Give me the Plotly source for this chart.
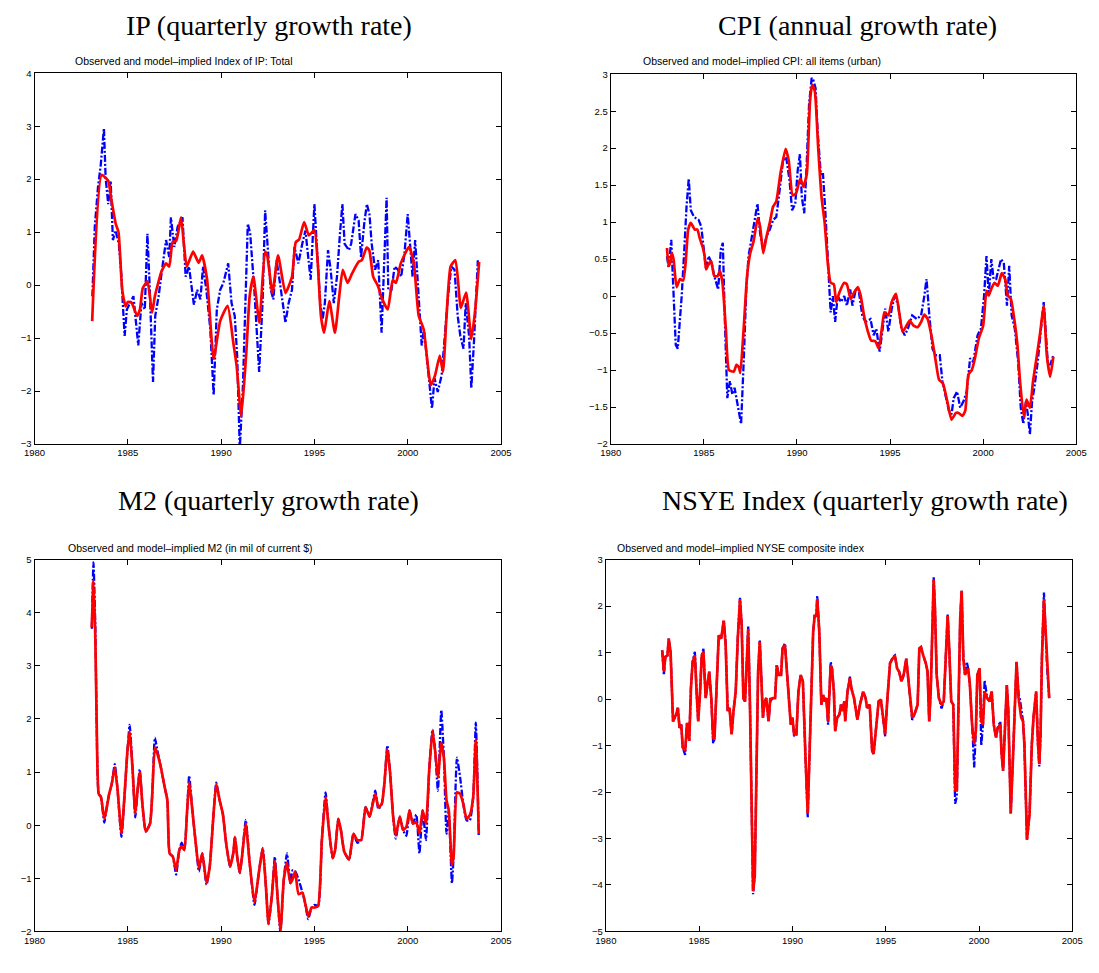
import plotly.graph_objects as go

# ------------------------------------------------------------------
# Observed series (blue) and model-implied series (red), by date
# ------------------------------------------------------------------

# IP, quarterly growth rate
ip_obs_dates = [
    1983.10, 1983.23, 1983.40, 1983.55, 1983.72, 1983.81, 1983.95, 1984.08, 1984.20, 1984.34,
    1984.52, 1984.66, 1984.73, 1984.83, 1984.95, 1985.13, 1985.30, 1985.56, 1985.73, 1985.91,
    1986.05, 1986.17, 1986.35, 1986.47, 1986.65, 1986.88, 1987.05, 1987.22, 1987.31, 1987.49,
    1987.67, 1987.93, 1988.10, 1988.28, 1988.54, 1988.72, 1988.89, 1989.03, 1989.21, 1989.42,
    1989.60, 1989.77, 1989.95, 1990.12, 1990.38, 1990.56, 1990.73, 1990.86, 1991.00, 1991.17,
    1991.43, 1991.56, 1991.78, 1992.04, 1992.22, 1992.36, 1992.48, 1992.66, 1992.80, 1992.97,
    1993.15, 1993.45, 1993.62, 1993.80, 1993.93, 1994.14, 1994.35, 1994.52, 1994.63, 1994.80,
    1995.00, 1995.13, 1995.31, 1995.44, 1995.56, 1995.73, 1995.87, 1996.04, 1996.21, 1996.37,
    1996.50, 1996.62, 1996.85, 1996.97, 1997.20, 1997.37, 1997.50, 1997.67, 1997.81, 1997.95,
    1998.07, 1998.25, 1998.42, 1998.60, 1998.72, 1998.87, 1998.96, 1999.13, 1999.30, 1999.48,
    1999.65, 1999.83, 2000.00, 2000.17, 2000.26, 2000.40, 2000.53, 2000.61, 2000.75, 2000.87,
    2001.04, 2001.16, 2001.30, 2001.44, 2001.61, 2001.82, 2001.99, 2002.16, 2002.34, 2002.51,
    2002.68, 2002.82, 2002.99, 2003.11, 2003.29, 2003.41, 2003.55, 2003.76,
]
ip_obs = [
    -0.21, 1.10, 1.84, 2.27, 2.96, 2.03, 1.53, 1.97, 0.85, 1.03,
    0.78, 0.16, -0.34, -0.96, -0.46, -0.34, -0.21, -1.14, -0.34, -0.46,
    0.97, -0.02, -1.83, -0.58, -0.21, 0.41, 0.85, 0.53, 1.28, 0.72,
    1.10, 1.28, 0.16, 0.35, -0.37, -0.09, -0.27, 0.35, -0.09, -0.83,
    -2.08, -0.46, -0.09, 0.04, 0.41, -0.34, -0.58, -1.33, -3.10, -1.89,
    1.16, 0.97, -0.09, -1.64, -0.34, 1.41, 0.78, -0.09, -0.27, 0.47,
    0.05, -0.71, -0.34, -0.09, 0.72, 0.41, 0.78, 1.03, 0.66, 0.10,
    1.53, 0.78, -0.34, -0.65, -0.34, 0.66, 0.29, -0.34, 0.16, 0.97,
    1.53, 0.78, 0.66, 0.78, 1.34, 1.22, 0.53, 1.16, 1.53, 1.34,
    0.78, 0.29, 0.47, -0.90, 0.16, 1.65, -0.09, -0.09, 0.35, 0.29,
    0.16, 0.60, 1.34, 0.47, 0.16, 0.85, 0.10, -0.34, -1.14, -0.83,
    -1.45, -1.95, -2.33, -1.76, -2.02, -1.70, -0.96, -0.21, 0.35, 0.29,
    -0.58, -0.96, -1.20, -0.34, -0.96, -1.95, -1.08, 0.47,
]
ip_fit_dates = [
    1983.09, 1983.60, 1983.95, 1984.13, 1984.35, 1984.50, 1984.70, 1984.88, 1985.00, 1985.20,
    1985.50, 1985.65, 1985.80, 1986.05, 1986.30, 1986.45, 1986.80, 1987.05, 1987.22, 1987.40,
    1987.60, 1987.85, 1988.02, 1988.16, 1988.50, 1988.80, 1988.98, 1989.25, 1989.60, 1989.95,
    1990.35, 1990.65, 1990.83, 1991.08, 1991.35, 1991.53, 1991.73, 1992.05, 1992.35, 1992.47,
    1992.75, 1993.05, 1993.45, 1993.80, 1994.00, 1994.18, 1994.45, 1994.70, 1995.00, 1995.17,
    1995.35, 1995.52, 1995.80, 1996.10, 1996.33, 1996.52, 1996.78, 1997.02, 1997.37, 1997.54,
    1997.80, 1997.94, 1998.15, 1998.41, 1998.64, 1998.93, 1999.20, 1999.37, 1999.63, 2000.07,
    2000.33, 2000.59, 2000.85, 2001.24, 2001.47, 2001.72, 2001.89, 2002.07, 2002.30, 2002.56,
    2002.85, 2003.13, 2003.41, 2003.62, 2003.83,
]
ip_fit = [
    -0.68, 2.08, 1.97, 1.59, 1.16, 1.00, -0.09, -0.40, -0.32, -0.33,
    -0.58, -0.46, -0.06, 0.07, -0.52, -0.21, 0.25, 0.41, 0.35, 0.81,
    0.84, 1.28, 0.72, 0.35, 0.63, 0.42, 0.56, 0.10, -1.39, -0.68,
    -0.39, -1.08, -1.52, -2.48, -1.27, -0.21, 0.16, -0.71, 0.63, 0.56,
    -0.15, 0.56, -0.15, 0.16, 0.81, 0.86, 1.19, 0.94, 1.04, 0.47,
    -0.58, -0.90, -0.30, -0.90, -0.21, 0.29, 0.04, 0.22, 0.44, 0.47,
    0.71, 0.66, 0.16, -0.02, -0.27, -0.46, 0.10, 0.04, 0.41, 0.72,
    0.41, -0.58, -0.83, -1.89, -1.70, -1.33, -1.64, -0.65, 0.35, 0.47,
    -0.43, -0.14, -1.02, -0.46, 0.44,
]

# CPI, annual growth rate
cpi_obs_dates = [
    1983.02, 1983.11, 1983.25, 1983.37, 1983.49, 1983.60, 1983.72, 1983.81, 1983.95, 1984.07,
    1984.19, 1984.30, 1984.47, 1984.72, 1984.86, 1985.00, 1985.12, 1985.25, 1985.42, 1985.56,
    1985.70, 1985.77, 1985.91, 1986.02, 1986.12, 1986.26, 1986.40, 1986.53, 1986.65, 1986.75,
    1986.88, 1987.00, 1987.14, 1987.28, 1987.40, 1987.58, 1987.70, 1987.88, 1988.02, 1988.19,
    1988.37, 1988.54, 1988.72, 1988.89, 1989.07, 1989.25, 1989.42, 1989.60, 1989.74, 1989.91,
    1990.04, 1990.16, 1990.26, 1990.39, 1990.51, 1990.65, 1990.79, 1990.88, 1991.00, 1991.11,
    1991.28, 1991.40, 1991.53, 1991.67, 1991.81, 1991.93, 1992.05, 1992.19, 1992.37, 1992.54,
    1992.68, 1992.86, 1992.98, 1993.16, 1993.33, 1993.51, 1993.68, 1993.95, 1994.12, 1994.26,
    1994.44, 1994.56, 1994.74, 1994.91, 1995.09, 1995.26, 1995.44, 1995.61, 1995.79, 1995.96,
    1996.19, 1996.44, 1996.67, 1996.84, 1996.96, 1997.11, 1997.28, 1997.46, 1997.67, 1997.81,
    1997.98, 1998.16, 1998.30, 1998.42, 1998.60, 1998.77, 1998.95, 1999.12, 1999.30, 1999.47,
    1999.70, 1999.88, 2000.05, 2000.18, 2000.30, 2000.44, 2000.56, 2000.70, 2000.96, 2001.11,
    2001.28, 2001.40, 2001.53, 2001.70, 2001.88, 2002.02, 2002.16, 2002.30, 2002.40, 2002.51,
    2002.63, 2002.75, 2002.93, 2003.11, 2003.25, 2003.35, 2003.47, 2003.60, 2003.77,
]
cpi_obs = [
    0.54, 0.38, 0.76, 0.09, -0.66, -0.71, -0.35, 0.00, 0.63, 1.21,
    1.59, 1.16, 1.07, 1.03, 0.94, 0.63, 0.36, 0.54, 0.45, 0.27,
    0.14, 0.09, 0.63, 0.72, -0.26, -1.38, -1.15, -1.33, -1.24, -1.38,
    -1.55, -1.73, -0.89, 0.09, 0.54, 0.81, 1.03, 1.25, 0.85, 0.63,
    0.81, 0.90, 1.03, 1.07, 1.43, 1.83, 1.88, 1.57, 1.16, 1.25,
    1.70, 1.92, 1.34, 1.12, 1.70, 2.59, 2.95, 2.92, 2.81, 2.23,
    1.65, 1.65, 1.12, 0.45, -0.22, 0.00, -0.35, 0.00, -0.08, 0.00,
    -0.13, 0.09, -0.13, 0.09, 0.05, -0.26, -0.35, -0.31, -0.53, -0.44,
    -0.75, -0.53, -0.17, -0.48, -0.17, 0.00, -0.13, -0.44, -0.53, -0.44,
    -0.26, -0.31, -0.26, 0.00, 0.23, -0.26, -0.71, -0.80, -0.80, -1.15,
    -1.33, -1.55, -1.60, -1.38, -1.29, -1.51, -1.42, -1.29, -0.84, -0.89,
    -0.53, -0.44, 0.00, 0.54, 0.00, 0.50, 0.23, 0.23, 0.50, 0.45,
    -0.13, 0.41, -0.26, -0.44, -0.89, -1.51, -1.73, -1.42, -1.60, -1.87,
    -1.42, -1.24, -0.89, -0.40, -0.08, -0.44, -0.89, -0.93, -0.80,
]
cpi_fit_dates = [
    1983.02, 1983.11, 1983.19, 1983.28, 1983.37, 1983.54, 1983.72, 1983.89, 1984.02, 1984.16,
    1984.30, 1984.51, 1984.65, 1984.77, 1984.95, 1985.04, 1985.12, 1985.21, 1985.39, 1985.56,
    1985.74, 1985.86, 1986.00, 1986.18, 1986.35, 1986.61, 1986.75, 1986.88, 1986.96, 1987.14,
    1987.32, 1987.49, 1987.67, 1987.89, 1988.02, 1988.19, 1988.37, 1988.54, 1988.72, 1988.89,
    1989.11, 1989.39, 1989.56, 1989.77, 1989.95, 1990.18, 1990.35, 1990.53, 1990.70, 1990.82,
    1990.96, 1991.14, 1991.32, 1991.49, 1991.67, 1991.81, 1991.98, 1992.11, 1992.28, 1992.54,
    1992.68, 1992.89, 1993.07, 1993.28, 1993.42, 1993.60, 1993.81, 1993.98, 1994.21, 1994.39,
    1994.56, 1994.70, 1994.91, 1995.09, 1995.32, 1995.49, 1995.67, 1995.84, 1996.05, 1996.26,
    1996.49, 1996.67, 1996.84, 1997.02, 1997.25, 1997.46, 1997.63, 1997.84, 1998.07, 1998.30,
    1998.54, 1998.68, 1998.89, 1999.04, 1999.21, 1999.39, 1999.56, 1999.77, 2000.00, 2000.18,
    2000.30, 2000.44, 2000.61, 2000.79, 2001.00, 2001.18, 2001.32, 2001.49, 2001.67, 2001.84,
    2001.98, 2002.19, 2002.33, 2002.51, 2002.68, 2002.89, 2003.07, 2003.25, 2003.42, 2003.60,
    2003.77,
]
cpi_fit = [
    0.65, 0.41, 0.45, 0.58, 0.50, 0.12, 0.23, 0.21, 0.45, 0.90,
    0.99, 0.90, 0.90, 0.79, 0.65, 0.54, 0.36, 0.41, 0.47, 0.27,
    0.27, 0.34, 0.18, -0.44, -1.00, -1.02, -0.93, -0.96, -1.04, -0.44,
    0.27, 0.58, 0.74, 1.05, 0.94, 0.58, 0.81, 0.99, 1.21, 1.28,
    1.65, 1.99, 1.83, 1.36, 1.39, 1.59, 1.48, 1.65, 2.63, 2.86,
    2.77, 2.01, 1.34, 0.99, 0.41, 0.18, 0.16, -0.08, 0.05, 0.18,
    0.16, -0.04, 0.05, 0.12, 0.01, -0.26, -0.48, -0.60, -0.61, -0.71,
    -0.44, -0.22, -0.26, -0.08, 0.03, -0.22, -0.48, -0.42, -0.33, -0.40,
    -0.42, -0.35, -0.25, -0.31, -0.57, -0.89, -1.13, -1.18, -1.42, -1.67,
    -1.58, -1.58, -1.62, -1.55, -1.06, -1.00, -0.84, -0.57, -0.40, 0.07,
    0.01, 0.10, 0.18, 0.14, 0.31, 0.23, 0.01, -0.04, -0.31, -0.66,
    -1.15, -1.64, -1.40, -1.51, -1.15, -0.80, -0.48, -0.13, -0.80, -1.09,
    -0.82,
]

# M2, quarterly growth rate
m2_dates = [
    1983.07, 1983.16, 1983.26, 1983.33, 1983.44, 1983.56, 1983.74, 1983.86, 1984.00, 1984.14,
    1984.30, 1984.44, 1984.66, 1984.84, 1984.98, 1985.10, 1985.26, 1985.40, 1985.52, 1985.64,
    1985.78, 1985.96, 1986.19, 1986.31, 1986.45, 1986.59, 1986.77, 1986.98, 1987.12, 1987.24,
    1987.41, 1987.59, 1987.76, 1987.89, 1988.03, 1988.17, 1988.29, 1988.46, 1988.64, 1988.81,
    1988.99, 1989.22, 1989.39, 1989.57, 1989.74, 1989.92, 1990.09, 1990.27, 1990.48, 1990.65,
    1990.74, 1990.86, 1991.00, 1991.14, 1991.32, 1991.53, 1991.79, 1992.02, 1992.23, 1992.40,
    1992.54, 1992.72, 1992.88, 1993.02, 1993.18, 1993.36, 1993.53, 1993.71, 1993.83, 1993.97,
    1994.15, 1994.36, 1994.50, 1994.67, 1994.85, 1995.02, 1995.20, 1995.40, 1995.60, 1995.76,
    1995.98, 1996.11, 1996.28, 1996.42, 1996.60, 1996.86, 1997.09, 1997.30, 1997.51, 1997.74,
    1997.96, 1998.26, 1998.43, 1998.61, 1998.75, 1998.91, 1999.05, 1999.22, 1999.36, 1999.58,
    1999.75, 1999.93, 2000.10, 2000.28, 2000.46, 2000.63, 2000.80, 2000.98, 2001.15, 2001.33,
    2001.47, 2001.62, 2001.80, 2001.94, 2002.08, 2002.20, 2002.37, 2002.46, 2002.64, 2002.81,
    2002.98, 2003.16, 2003.33, 2003.51, 2003.65, 2003.81,
]
m2_obs = [
    3.70, 4.95, 3.70, 1.96, 0.59, 0.53, 0.05, 0.31, 0.59, 0.78,
    1.15, 0.71, -0.22, 0.65, 1.40, 1.89, 1.02, 0.15, 0.65, 1.05,
    0.40, -0.12, 0.03, 0.59, 1.65, 1.40, 1.09, 0.71, 0.47, -0.53,
    -0.59, -0.93, -0.47, -0.33, -0.47, 0.22, 0.93, 0.28, -0.34, -0.87,
    -0.53, -1.12, -0.78, 0.09, 0.80, 0.47, 0.22, -0.34, -0.78, -0.53,
    -0.22, -0.59, -0.90, -0.53, 0.10, -0.71, -1.50, -0.90, -0.43, -1.15,
    -1.86, -1.33, -0.60, -1.33, -2.02, -1.02, -0.53, -1.09, -0.85, -0.87,
    -1.02, -1.27, -1.46, -1.77, -1.55, -1.50, -1.52, -0.28, 0.62, -0.02,
    -0.62, -0.47, 0.12, -0.09, -0.50, -0.65, -0.16, -0.33, -0.28, 0.34,
    0.16, 0.65, 0.30, 0.40, 0.78, 1.50, 1.02, 0.16, -0.25, 0.16,
    -0.09, -0.20, 0.28, 0.03, 0.20, -0.53, 0.28, -0.28, 1.02, 1.80,
    1.40, 0.65, 2.17, 1.27, -0.16, 0.28, -1.09, -0.59, 1.27, 0.90,
    0.40, 0.09, 0.09, 0.53, 1.93, -0.22,
]
m2_fit = [
    3.73, 4.60, 3.51, 1.96, 0.59, 0.53, 0.12, 0.31, 0.59, 0.78,
    1.09, 0.71, -0.16, 0.65, 1.40, 1.77, 1.02, 0.22, 0.65, 1.00,
    0.40, -0.12, 0.03, 0.59, 1.46, 1.34, 1.09, 0.71, 0.47, -0.53,
    -0.59, -0.84, -0.47, -0.40, -0.47, 0.22, 0.81, 0.28, -0.34, -0.81,
    -0.53, -1.09, -0.78, 0.09, 0.78, 0.47, 0.22, -0.34, -0.78, -0.53,
    -0.22, -0.59, -0.90, -0.53, 0.03, -0.71, -1.46, -0.90, -0.43, -1.15,
    -1.86, -1.33, -0.68, -1.33, -1.99, -1.02, -0.71, -1.09, -1.02, -0.87,
    -1.30, -1.27, -1.46, -1.71, -1.55, -1.55, -1.52, -0.28, 0.53, -0.02,
    -0.62, -0.47, 0.12, -0.09, -0.50, -0.65, -0.16, -0.28, -0.28, 0.34,
    0.16, 0.59, 0.34, 0.40, 0.78, 1.43, 1.02, 0.16, -0.19, 0.16,
    -0.09, -0.03, 0.28, 0.03, 0.06, -0.16, 0.28, 0.03, 1.02, 1.77,
    1.40, 0.90, 1.55, 1.27, 0.47, 0.28, -0.75, -0.59, 0.62, 0.59,
    0.40, 0.12, 0.19, 0.53, 1.61, -0.16,
]

# NYSE composite index, quarterly growth rate
nyse_dates = [
    1983.02, 1983.11, 1983.19, 1983.30, 1983.37, 1983.47, 1983.60, 1983.68, 1983.77, 1983.86,
    1983.95, 1984.04, 1984.12, 1984.25, 1984.35, 1984.47, 1984.56, 1984.65, 1984.77, 1984.88,
    1984.95, 1985.05, 1985.14, 1985.23, 1985.35, 1985.44, 1985.54, 1985.65, 1985.75, 1985.82,
    1985.96, 1986.05, 1986.18, 1986.32, 1986.42, 1986.53, 1986.63, 1986.74, 1986.84, 1986.96,
    1987.07, 1987.19, 1987.28, 1987.37, 1987.46, 1987.54, 1987.63, 1987.72, 1987.81, 1987.89,
    1987.98, 1988.07, 1988.16, 1988.25, 1988.33, 1988.42, 1988.51, 1988.60, 1988.72, 1988.81,
    1988.95, 1989.07, 1989.16, 1989.26, 1989.39, 1989.47, 1989.60, 1989.68, 1989.82, 1989.91,
    1990.00, 1990.09, 1990.21, 1990.32, 1990.44, 1990.56, 1990.70, 1990.82, 1990.91, 1991.02,
    1991.11, 1991.19, 1991.28, 1991.33, 1991.44, 1991.55, 1991.64, 1991.73, 1991.82, 1991.91,
    1992.05, 1992.12, 1992.22, 1992.29, 1992.40, 1992.52, 1992.60, 1992.69, 1992.78, 1992.83,
    1992.95, 1993.08, 1993.16, 1993.30, 1993.48, 1993.62, 1993.79, 1993.92, 1994.00, 1994.14,
    1994.27, 1994.35, 1994.44, 1994.62, 1994.74, 1994.88, 1994.97, 1995.09, 1995.23, 1995.37,
    1995.49, 1995.61, 1995.72, 1995.84, 1995.96, 1996.10, 1996.19, 1996.31, 1996.42, 1996.54,
    1996.71, 1996.80, 1996.89, 1997.01, 1997.15, 1997.24, 1997.33, 1997.41, 1997.50, 1997.57,
    1997.64, 1997.73, 1997.85, 1997.99, 1998.11, 1998.20, 1998.32, 1998.41, 1998.51, 1998.62,
    1998.72, 1998.81, 1998.90, 1998.99, 1999.07, 1999.16, 1999.25, 1999.34, 1999.42, 1999.51,
    1999.63, 1999.74, 1999.83, 1999.91, 2000.03, 2000.12, 2000.21, 2000.30, 2000.44, 2000.56,
    2000.68, 2000.79, 2000.91, 2001.00, 2001.14, 2001.21, 2001.29, 2001.40, 2001.49, 2001.57,
    2001.70, 2001.82, 2001.91, 2002.01, 2002.12, 2002.19, 2002.26, 2002.36, 2002.43, 2002.50,
    2002.57, 2002.71, 2002.83, 2002.92, 2003.06, 2003.16, 2003.23, 2003.30, 2003.37, 2003.48,
    2003.55, 2003.65, 2003.76,
]
nyse_obs = [
    1.05, 0.52, 0.91, 0.94, 1.30, 1.01, -0.48, -0.40, -0.33, -0.19,
    -0.62, -0.55, -1.04, -1.20, -0.51, -0.90, 0.23, 0.80, 1.02, 0.02,
    -0.48, 0.16, 0.94, 1.08, 0.02, 0.30, 0.59, 0.02, -0.95, -0.87,
    0.30, 1.37, 1.30, 1.69, 1.22, -0.26, -0.19, -0.76, -0.26, 0.16,
    1.30, 2.18, 1.58, 0.02, -0.05, 0.73, 1.56, -0.05, -2.67, -4.20,
    -3.81, -1.61, 0.59, 1.26, 0.30, -0.40, -0.05, 0.02, -0.48, -0.05,
    0.02, 0.02, 0.73, 0.52, 0.52, 1.09, 1.20, 0.73, 0.02, -0.55,
    -0.40, -0.80, -0.76, 0.16, 0.52, 0.38, -1.26, -2.55, -1.26, 0.16,
    1.44, 1.79, 1.79, 2.22, 1.44, -0.12, 0.09, -0.05, 0.02, -0.55,
    0.80, 0.66, 0.16, -0.69, -0.40, -0.33, -0.12, -0.26, -0.05, -0.48,
    0.16, 0.48, 0.23, 0.02, -0.44, -0.12, 0.16, 0.02, -0.19, -0.12,
    -1.11, -1.18, -0.83, -0.05, -0.01, -0.55, -0.80, 0.02, 0.77, 0.90,
    0.94, 0.66, 0.59, 0.38, 0.52, 0.87, 0.52, -0.05, -0.45, -0.33,
    -0.12, 1.09, 1.12, 0.94, 0.77, 0.59, -0.48, 0.16, 1.58, 2.62,
    1.94, 0.52, 0.02, -0.20, -0.05, 0.87, 1.82, 1.01, -0.05, -0.12,
    -2.25, -2.10, -0.19, 1.72, 2.33, 0.87, 0.52, 0.80, 0.66, 0.30,
    -0.55, -1.47, -0.69, 0.52, 0.66, -1.00, -0.55, 0.40, 0.02, -0.05,
    0.16, -0.55, -0.83, -0.62, -0.48, -1.18, -1.54, -0.55, 0.30, -0.26,
    -2.46, -1.26, -0.19, 0.80, 0.10, 0.00, -0.20, -0.48, -0.97, -1.96,
    -3.03, -2.46, -0.97, -0.40, 0.16, -0.97, -1.45, -0.75, 0.87, 2.29,
    1.58, 0.66, 0.02,
]
nyse_fit = [
    1.05, 0.59, 0.91, 0.94, 1.30, 1.01, -0.48, -0.40, -0.33, -0.19,
    -0.62, -0.55, -1.04, -1.11, -0.51, -0.90, 0.23, 0.80, 0.94, 0.02,
    -0.48, 0.16, 0.94, 1.01, 0.02, 0.30, 0.59, 0.02, -0.83, -0.87,
    0.30, 1.37, 1.30, 1.69, 1.16, -0.26, -0.19, -0.76, -0.26, 0.16,
    1.30, 2.15, 1.58, 0.02, -0.05, 0.73, 1.51, -0.05, -2.67, -4.13,
    -3.81, -1.61, 0.59, 1.23, 0.30, -0.40, -0.05, 0.02, -0.48, 0.00,
    0.02, 0.02, 0.73, 0.52, 0.52, 1.09, 1.16, 0.73, 0.02, -0.55,
    -0.40, -0.76, -0.76, 0.16, 0.52, 0.38, -1.26, -2.46, -1.26, 0.16,
    1.44, 1.79, 1.79, 2.15, 1.44, -0.12, 0.09, -0.05, 0.02, -0.48,
    0.73, 0.66, 0.16, -0.69, -0.40, -0.33, -0.12, -0.26, -0.05, -0.48,
    0.16, 0.45, 0.23, 0.02, -0.44, -0.12, 0.16, 0.02, -0.19, -0.12,
    -1.11, -1.18, -0.83, -0.05, -0.01, -0.55, -0.76, 0.02, 0.77, 0.87,
    0.94, 0.66, 0.59, 0.38, 0.52, 0.87, 0.52, -0.05, -0.40, -0.33,
    -0.12, 1.09, 1.12, 0.94, 0.77, 0.59, -0.48, 0.16, 1.58, 2.57,
    1.94, 0.52, 0.02, -0.12, -0.05, 0.87, 1.79, 1.01, -0.05, -0.12,
    -1.96, -1.96, -0.19, 1.72, 2.33, 0.87, 0.52, 0.59, 0.66, 0.30,
    -0.55, -0.97, -0.69, 0.52, 0.66, -0.48, -0.55, 0.16, 0.02, -0.05,
    0.16, -0.55, -0.83, -0.62, -0.55, -1.18, -1.54, -0.55, 0.30, -0.26,
    -2.46, -1.26, -0.19, 0.80, 0.02, -0.26, -0.40, -0.48, -0.97, -1.96,
    -3.03, -2.46, -0.97, -0.40, 0.16, -0.97, -1.40, -0.69, 0.87, 2.15,
    1.58, 0.66, 0.02,
]

# ------------------------------------------------------------------
# Figure layout
# ------------------------------------------------------------------
W, H = 1099, 973
SANS = "Liberation Sans, Arial, Helvetica, sans-serif"
SERIF = "Liberation Serif, Times New Roman, serif"
BLUE = "#0000ff"
RED = "#ff0000"


def px_domain(x0, y0, x1, y1):
    """Pixel box (left, top, right, bottom) -> paper domains."""
    return [x0 / W, x1 / W], [1 - y1 / H, 1 - y0 / H]


panels = [
    dict(title="IP (quarterly growth rate)",
         note="Observed and model\u2013implied Index of IP: Total",
         box=(24, 68, 500, 443), yrange=(-3, 4), dtick=1,
         obs=(ip_obs_dates, ip_obs), fit=(ip_fit_dates, ip_fit),
         smooth_fit=True, smooth_obs=False,
         title_at=(263, 20), note_at=(63, 56)),
    dict(title="CPI (annual growth rate)",
         note="Observed and model\u2013implied CPI: all items (urban)",
         box=(612, 69, 1087, 443), yrange=(-2, 3), dtick=0.5,
         obs=(cpi_obs_dates, cpi_obs), fit=(cpi_fit_dates, cpi_fit),
         smooth_fit=True, smooth_obs=False,
         title_at=(864, 20), note_at=(643, 56)),
    dict(title="M2 (quarterly growth rate)",
         note="Observed and model\u2013implied M2 (in mil of current $)",
         box=(24, 560, 500, 936), yrange=(-2, 5), dtick=1,
         obs=(m2_dates, m2_obs), fit=(m2_dates, m2_fit),
         smooth_fit=True, smooth_obs=True,
         title_at=(263, 500), note_at=(56, 548)),
    dict(title="NSYE Index (quarterly growth rate)",
         note="Observed and model\u2013implied NYSE composite index",
         box=(607, 560, 1083, 936), yrange=(-5, 3), dtick=1,
         obs=(nyse_dates, nyse_obs), fit=(nyse_dates, nyse_fit),
         smooth_fit=False, smooth_obs=False,
         title_at=(871, 500), note_at=(616, 548)),
]

axis_style = dict(
    showline=True, linecolor="black", linewidth=1.2, mirror="ticks",
    ticks="inside", ticklen=5, tickwidth=1, tickcolor="black",
    showgrid=False, zeroline=False,
    tickfont=dict(family=SANS, size=9.5, color="black"),
)


def line_style(color, width, dash, smooth):
    style = dict(color=color, width=width, dash=dash)
    if smooth:
        style.update(shape="spline", smoothing=0.5)
    return style


fig = go.Figure()
layout_axes = {}
for i, p in enumerate(panels, start=1):
    sfx = "" if i == 1 else str(i)
    xd, yd = px_domain(*p["box"])
    layout_axes[f"xaxis{sfx}"] = dict(domain=xd, range=[1980, 2005], tick0=1980, dtick=5,
                                      anchor=f"y{sfx}", **axis_style)
    layout_axes[f"yaxis{sfx}"] = dict(domain=yd, range=list(p["yrange"]), tick0=0,
                                      dtick=p["dtick"], anchor=f"x{sfx}", **axis_style)

    t_obs, v_obs = p["obs"]
    fig.add_trace(go.Scatter(
        x=t_obs, y=v_obs, mode="lines", xaxis=f"x{sfx}", yaxis=f"y{sfx}",
        line=line_style(BLUE, 2.3, "7px,2px,2px,2px", p["smooth_obs"]),
        showlegend=False, hoverinfo="skip"))
    t_fit, v_fit = p["fit"]
    fig.add_trace(go.Scatter(
        x=t_fit, y=v_fit, mode="lines", xaxis=f"x{sfx}", yaxis=f"y{sfx}",
        line=line_style(RED, 2.7, "solid", p["smooth_fit"]),
        showlegend=False, hoverinfo="skip"))

    tx, ty = p["title_at"]
    fig.add_annotation(text=p["title"], xref="paper", yref="paper",
                       x=tx / W, y=1 - ty / H, xanchor="center", yanchor="middle",
                       showarrow=False, font=dict(family=SERIF, size=28, color="black"))
    nx, ny = p["note_at"]
    fig.add_annotation(text=p["note"], xref="paper", yref="paper",
                       x=nx / W, y=1 - ny / H, xanchor="left", yanchor="middle",
                       showarrow=False, font=dict(family=SANS, size=10.5, color="black"))

fig.update_layout(
    width=W, height=H,
    margin=dict(l=0, r=0, t=0, b=0),
    paper_bgcolor="white", plot_bgcolor="white",
    **layout_axes,
)

fig.write_html("out.html")
